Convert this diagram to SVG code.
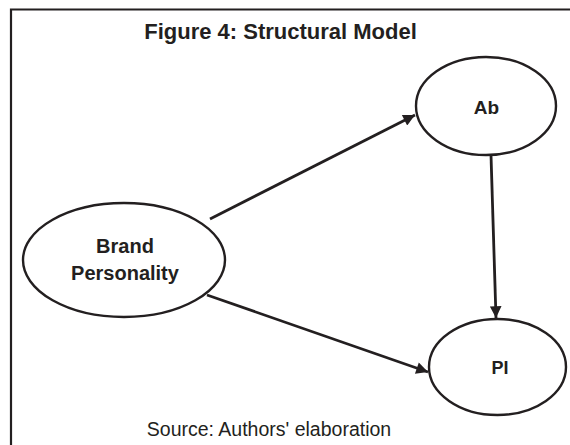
<svg xmlns="http://www.w3.org/2000/svg" width="570" height="445" viewBox="0 0 570 445">
  <style>
    .frame { fill: none; stroke: #231f20; stroke-width: 2.2; }
    .node ellipse { fill: #ffffff; stroke: #231f20; stroke-width: 2.4; }
    .label { font-family: "Liberation Sans", Arial, sans-serif; font-weight: bold; fill: #231f20; text-anchor: middle; }
    .edge { stroke: #231f20; stroke-width: 2.8; fill: none; marker-end: url(#head); }
    .title { font-family: "Liberation Sans", Arial, sans-serif; font-weight: bold; font-size: 22px; fill: #231f20; text-anchor: middle; }
    .note { font-family: "Liberation Sans", Arial, sans-serif; font-size: 19.5px; fill: #231f20; text-anchor: middle; }
  </style>
  <defs>
    <marker id="head" viewBox="0 0 10 10" refX="10" refY="5" markerWidth="5.2" markerHeight="4.2" orient="auto" markerUnits="strokeWidth">
      <path d="M0,0 L10,5 L0,10 Z" fill="#231f20"/>
    </marker>
  </defs>

  <rect width="570" height="445" fill="#ffffff"/>
  <!-- open frame: top and left edges -->
  <path class="frame" d="M11,445 L11,9.5 L570,9.5"/>

  <text class="title" x="280.5" y="39">Figure 4: Structural Model</text>

  <g id="connectors">
    <line class="edge" x1="210" y1="219" x2="415" y2="115"/>
    <line class="edge" x1="207" y1="295" x2="428" y2="372"/>
    <line class="edge" x1="491" y1="155" x2="496" y2="318"/>
  </g>

  <g id="brand-personality" class="node">
    <ellipse cx="124" cy="260" rx="101" ry="57"/>
    <text class="label" x="125" y="253" font-size="20">Brand</text>
    <text class="label" x="125" y="280" font-size="20">Personality</text>
  </g>

  <g id="ab" class="node">
    <ellipse cx="486" cy="106" rx="70" ry="49"/>
    <text class="label" x="486.5" y="114" font-size="19">Ab</text>
  </g>

  <g id="pi" class="node">
    <ellipse cx="497.5" cy="367" rx="68.5" ry="48"/>
    <text class="label" x="500" y="374" font-size="18">PI</text>
  </g>

  <text class="note" x="269" y="436">Source: Authors' elaboration</text>
</svg>
